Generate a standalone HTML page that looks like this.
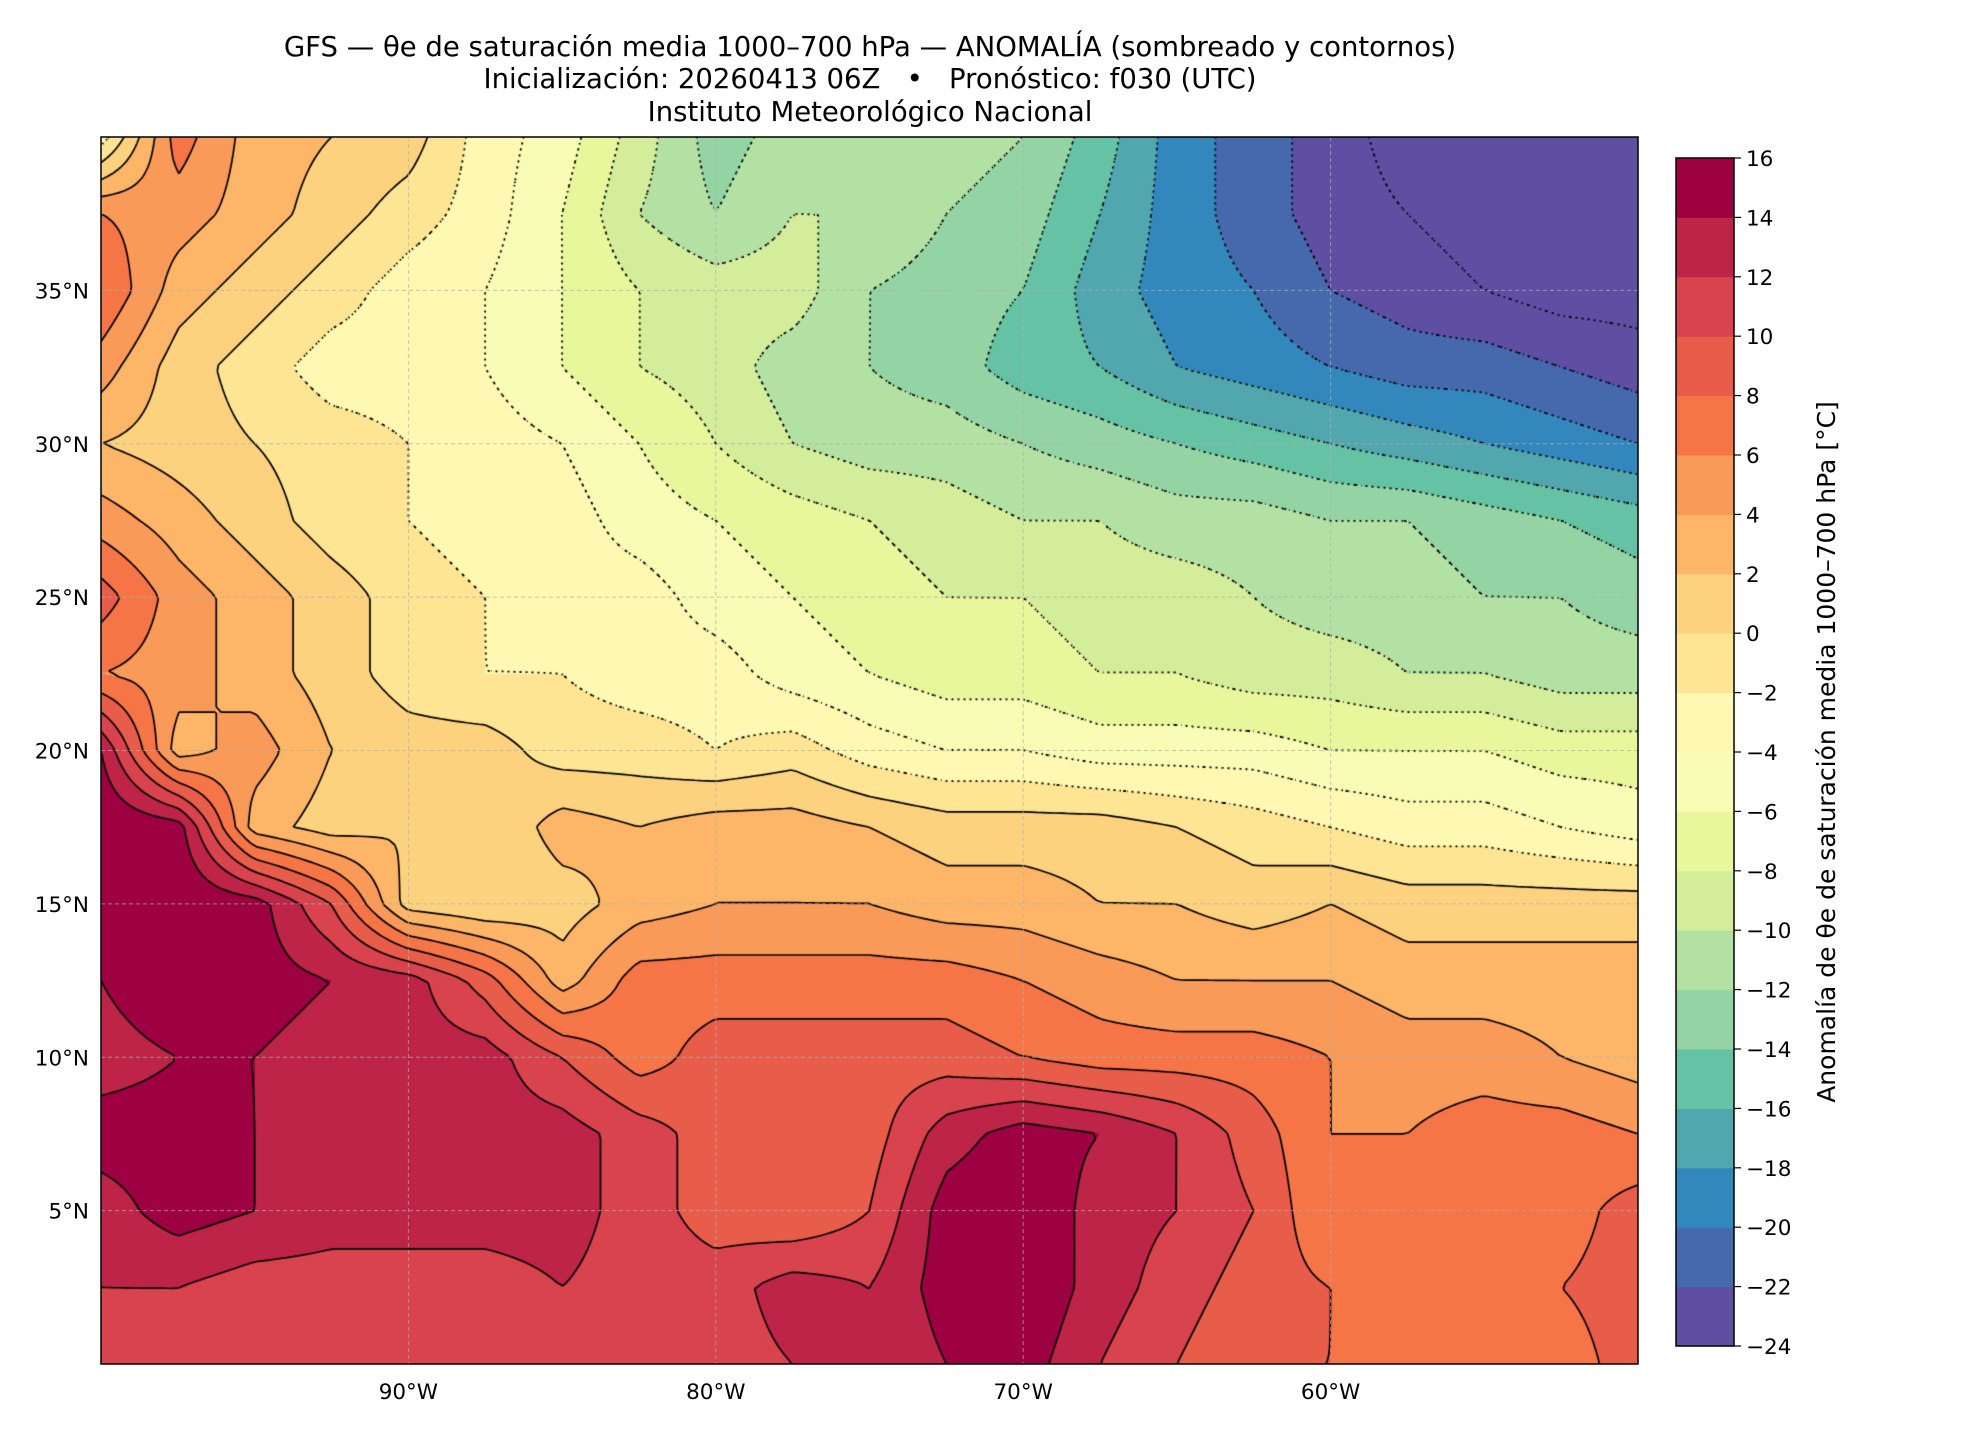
<!DOCTYPE html>
<html><head><meta charset="utf-8">
<style>
html,body{margin:0;padding:0;background:#fff;}
#wrap{position:relative;width:1980px;height:1440px;overflow:hidden;font-family:"DejaVu Sans","Liberation Sans",sans-serif;}
#field{position:absolute;left:101px;top:137px;}
#ov{position:absolute;left:0;top:0;}
</style></head>
<body>
<div id="wrap">
<canvas id="field" width="1537" height="1227"></canvas>
<svg id="ov" width="1980" height="1440"></svg>
</div>
<script>
// grid: lons -100..-50 step 2.5, lats 40..0 step 2.5
const lons = [-100,-97.5,-95,-92.5,-90,-87.5,-85,-82.5,-80,-77.5,-75,-72.5,-70,-67.5,-65,-62.5,-60,-57.5,-55,-52.5,-50];
const lats = [40,37.5,35,32.5,30,27.5,25,22.5,20,17.5,15,12.5,10,7.5,5,2.5,0];
const lat40  = [-3,7,3,2,1,-3,-5,-9,-13,-11,-11,-11,-12,-15,-19,-21,-23,-25,-25,-25,-25];
const lat375 = [6,5,3,1,-1,-3,-6,-10,-12,-10,-10,-12,-13,-16,-19,-21,-23,-24,-25,-25,-25];
const lat35  = [8,3,1,-1,-3,-4,-6,-8,-9,-9,-12,-13,-14,-17,-19,-20,-22,-23,-24,-25,-25];
const lat325 = [5,1,-1,-3,-3,-4,-6,-8,-9,-11,-12,-13,-15,-16,-18,-19,-20,-21,-21,-22,-23];
const lat30  = [2,1,0,-1,-2,-3,-4,-6,-8,-10,-11,-11,-12,-13,-14,-15,-16,-17,-18,-19,-20];
const lat275 = [5,3,1,-1,-2,-3,-3,-5,-6,-7,-8,-9,-10,-10,-11,-11,-12,-12,-13,-14,-15];
const lat25  = [9,5,3,1,-1,-2,-3,-3,-5,-6,-7,-8,-8,-9,-9,-10,-11,-11,-12,-12,-13];
const lat225 = [6,5,3,1,-1,-2,-2,-3,-3,-5,-6,-7,-7,-8,-8,-9,-9,-10,-10,-11,-11];
const lat20  = [14,3,5,2,1,1,-1,-1,-2,-1,-3,-4,-4,-5,-5,-5,-6,-6,-6,-7,-7];
const lat175 = [16,15,3,1,2,0,3,2,3,3,2,1,1,1,0,-1,-2,-3,-3,-4,-5];
const lat15  = [15,16,15,10,1,0,1,3,4,4,4,3,3,2,2,1,2,1,1,1,1];
const lat125 = [14,16,15,14,13,9,3,7,7,7,7,7,6,5,4,4,4,3,3,3,3];
const lat10  = [13,14,14,13,13,13,10,7,9,9,9,9,8,7,7,7,6,5,5,4,3];
const lat75  = [15,15,14,13,14,13,13,11,9,8,9,13,15,14,12,9,6,6,7,7,6];
const lat5   = [13,15,14,13,13,13,13,11,9,8,10,15,16,13,12,10,6,7,6,7,9];
const lat25s = [12,12,11,11,11,11,12,11,11,13,12,15,16,13,11,9,8,7,6,8,9];
const lat0   = [11,11,10,10,10,10,10,10,11,12,12,14,15,12,10,8,8,7,6,7,9];
const rows = [lat40,lat375,lat35,lat325,lat30,lat275,lat25,lat225,lat20,lat175,lat15,lat125,lat10,lat75,lat5,lat25s,lat0];
const levels = [-24,-22,-20,-18,-16,-14,-12,-10,-8,-6,-4,-2,0,2,4,6,8,10,12,14,16];
const levelColors = ["#5e4fa2","#4669ad","#3288bd","#52a6ad","#66c2a5","#94d4a4","#b3e0a3","#d4ed9b","#e8f69c","#f8fcb4","#fef8b3","#fee593","#fdd27f","#fdb567","#f99a58","#f57547","#e75d4a","#d8434e","#be2448","#9e0142"];
const latTicks = [35,30,25,20,15,10,5];
const latTickLabels = ["35°N","30°N","25°N","20°N","15°N","10°N","5°N"];
const lonTicks = [-90,-80,-70,-60];
const lonTickLabels = ["90°W","80°W","70°W","60°W"];
const cbTickLabels = ["16","14","12","10","8","6","4","2","0","−2","−4","−6","−8","−10","−12","−14","−16","−18","−20","−22","−24"];

const PX=101, PY=137, PW=1537, PH=1227;
const lonMin=-100, lonMax=-50, latMin=0, latMax=40;
function xOf(lon){return PX+(lon-lonMin)/(lonMax-lonMin)*PW;}
function yOf(lat){return PY+(latMax-lat)/(latMax-latMin)*PH;}
function val(lon,lat){
  let fx=(lon-lons[0])/(lons[1]-lons[0]); let fy=(lats[0]-lat)/(lats[0]-lats[1]);
  fx=Math.max(0,Math.min(lons.length-1.0001,fx)); fy=Math.max(0,Math.min(lats.length-1.0001,fy));
  const i=Math.floor(fx), j=Math.floor(fy), tx=fx-i, ty=fy-j;
  const a=rows[j][i], b=rows[j][i+1], c=rows[j+1][i], d=rows[j+1][i+1];
  return (a*(1-tx)+b*tx)*(1-ty)+(c*(1-tx)+d*tx)*ty;
}
function hex(h){return [parseInt(h.substr(1,2),16),parseInt(h.substr(3,2),16),parseInt(h.substr(5,2),16)];}
const rgb = levelColors.map(hex);
function colorIdx(v){let k=Math.floor((v-levels[0])/2);return Math.max(0,Math.min(rgb.length-1,k));}

const cv=document.getElementById('field'); const ctx=cv.getContext('2d');
const img=ctx.createImageData(PW,PH);
for(let y=0;y<PH;y++){
  const lat=latMax-(y+0.5)/PH*(latMax-latMin);
  for(let x=0;x<PW;x++){
    const lon=lonMin+(x+0.5)/PW*(lonMax-lonMin);
    const c=rgb[colorIdx(val(lon,lat))]; const o=(y*PW+x)*4;
    img.data[o]=c[0];img.data[o+1]=c[1];img.data[o+2]=c[2];img.data[o+3]=255;
  }
}
ctx.putImageData(img,0,0);
// contours via marching squares
const step=6; const nx=Math.ceil(PW/step)+1, ny=Math.ceil(PH/step)+1;
const F=[];
for(let j=0;j<ny;j++){F.push([]);for(let i=0;i<nx;i++){F[j].push(val(lonMin+i*step/PW*(lonMax-lonMin),latMax-j*step/PH*(latMax-latMin)));}}
ctx.strokeStyle="#000";
for(const L of levels){
  ctx.beginPath(); ctx.lineWidth=L<0?1.8:1.7;
  ctx.setLineDash(L<0?[1.5,4]:[]);
  for(let j=0;j<ny-1;j++)for(let i=0;i<nx-1;i++){
    const v=[F[j][i],F[j][i+1],F[j+1][i+1],F[j+1][i]];
    const p=[[i,j],[i+1,j],[i+1,j+1],[i,j+1]];
    const pts=[];
    for(let e=0;e<4;e++){const a=v[e],b=v[(e+1)%4];
      if((a<L)!==(b<L)){const t=(L-a)/(b-a);const pa=p[e],pb=p[(e+1)%4];
        pts.push([(pa[0]+(pb[0]-pa[0])*t)*step,(pa[1]+(pb[1]-pa[1])*t)*step]);}}
    for(let k=0;k+1<pts.length;k+=2){ctx.moveTo(pts[k][0],pts[k][1]);ctx.lineTo(pts[k+1][0],pts[k+1][1]);}
  }
  ctx.stroke();
}
ctx.setLineDash([]);

const NS="http://www.w3.org/2000/svg"; const svg=document.getElementById('ov');
function mk(tag,attrs,name,text){const e=document.createElementNS(NS,tag);for(const k in attrs)e.setAttribute(k,attrs[k]);
  
  
  if(text!==undefined)e.textContent=text;svg.appendChild(e);return e;}
// gridlines
latTicks.forEach((lt,i)=>{const y=yOf(lt);
  mk('line',{x1:PX,x2:PX+PW,y1:y,y2:y,stroke:"#b0b0b0","stroke-width":1,"stroke-dasharray":"4,3",opacity:0.7},'lat-gridline');
  mk('text',{x:PX-12,y:y+8,"text-anchor":"end","font-size":21.5},'lat-tick-label',latTickLabels[i]);});
lonTicks.forEach((ln,i)=>{const x=xOf(ln);
  mk('line',{x1:x,x2:x,y1:PY,y2:PY+PH,stroke:"#b0b0b0","stroke-width":1,"stroke-dasharray":"4,3",opacity:0.7},'lon-gridline');
  mk('text',{x:x,y:PY+PH+35,"text-anchor":"middle","font-size":21.5},'lon-tick-label',lonTickLabels[i]);});
mk('rect',{x:PX,y:PY,width:PW,height:PH,fill:"none",stroke:"#000","stroke-width":1.5},'plot-frame');
// titles
mk('text',{x:870,y:56,"text-anchor":"middle","font-size":27.5},'chart-title',"GFS — θe de saturación media 1000–700 hPa — ANOMALÍA (sombreado y contornos)");
mk('text',{x:870,y:88,"text-anchor":"middle","font-size":27.5,"xml:space":"preserve",style:"white-space:pre"},'chart-subtitle',"Inicialización: 20260413 06Z   •   Pronóstico: f030 (UTC)");
mk('text',{x:870,y:121,"text-anchor":"middle","font-size":27.5},'chart-institution',"Instituto Meteorológico Nacional");
// colorbar
const CX=1676, CW=58, CT=158, CB=1346;
function cbY(v){return CB-(v-levels[0])/(levels[levels.length-1]-levels[0])*(CB-CT);}
levelColors.forEach((c,k)=>{const y1=cbY(levels[k+1]),y0=cbY(levels[k]);
  mk('rect',{x:CX,y:y1,width:CW,height:y0-y1+0.5,fill:c},'colorbar-bin');});
mk('rect',{x:CX,y:CT,width:CW,height:CB-CT,fill:"none",stroke:"#000","stroke-width":1.5},'colorbar-frame');
cbTickLabels.forEach((t,k)=>{const v=levels[levels.length-1-k];const y=cbY(v);
  mk('line',{x1:CX+CW,x2:CX+CW+7,y1:y,y2:y,stroke:"#000","stroke-width":1.2},'colorbar-tick');
  mk('text',{x:CX+CW+12,y:y+8,"font-size":21.5},'colorbar-tick-label',t);});
mk('text',{x:1835,y:752,"text-anchor":"middle","font-size":25,transform:"rotate(-90 1835 752)"},'colorbar-title',"Anomalía de θe de saturación media 1000–700 hPa [°C]");
</script>
</body></html>
